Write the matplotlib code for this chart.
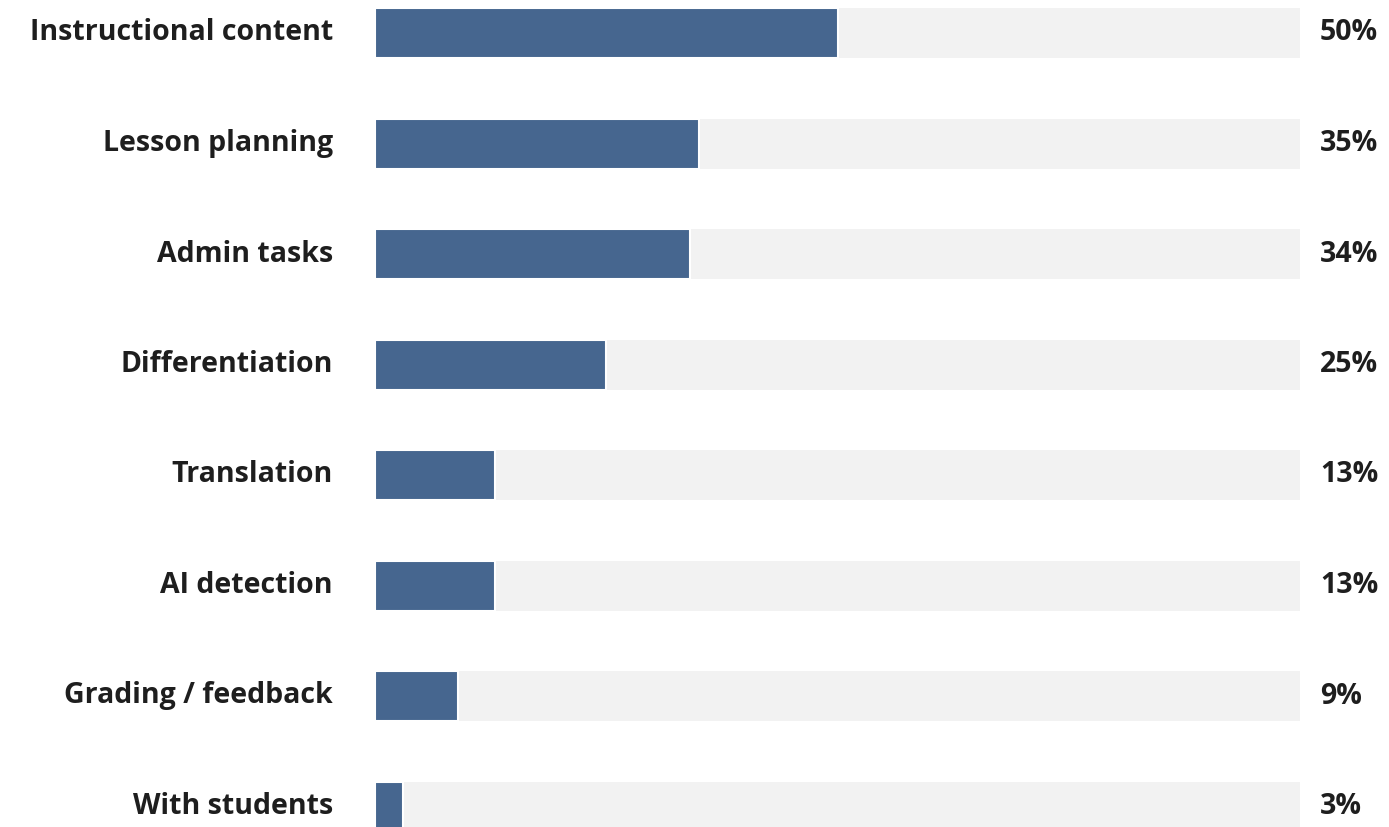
import matplotlib
matplotlib.use("Agg")
import matplotlib.pyplot as plt
import matplotlib.transforms as transforms

# Share of respondents per use case (%)
categories = [
    "Instructional content",
    "Lesson planning",
    "Admin tasks",
    "Differentiation",
    "Translation",
    "AI detection",
    "Grading / feedback",
    "With students",
]
values = [50, 35, 34, 25, 13, 13, 9, 3]

BAR_COLOR = "#46668f"
TRACK_COLOR = "#f2f2f2"
TEXT_COLOR = "#1e1e1e"

plt.rcParams["font.family"] = ["Open Sans", "DejaVu Sans"]

fig = plt.figure(figsize=(13.89, 8.27), dpi=100)
fig.patch.set_facecolor("white")
ax = fig.add_axes([375 / 1389, 0, 925 / 1389, 1])

rows = list(range(len(categories)))
height = 50 / 110.5

# background track, then the value bar on top
ax.barh(rows, [100] * len(rows), height=height, color=TRACK_COLOR, zorder=1)
ax.barh(rows, values, height=height, color=BAR_COLOR, edgecolor="white",
        linewidth=1.5, zorder=2)

ax.set_xlim(0, 100)
y_top = -33 / 110.5
ax.set_ylim(y_top + 827 / 110.5, y_top)
ax.axis("off")

offset = transforms.offset_copy
for i, (cat, v) in enumerate(zip(categories, values)):
    ax.text(0, i, cat, ha="right", va="center", fontsize=20.5, fontweight="bold",
            color=TEXT_COLOR, clip_on=False,
            transform=offset(ax.transData, fig=fig, x=-42, y=0, units="dots"))
    ax.text(100, i, f"{v}%", ha="left", va="center", fontsize=20.5,
            fontweight="bold", color=TEXT_COLOR, clip_on=False,
            transform=offset(ax.transData, fig=fig, x=20, y=0, units="dots"))

fig.savefig("out.png", dpi=100, facecolor="white")
